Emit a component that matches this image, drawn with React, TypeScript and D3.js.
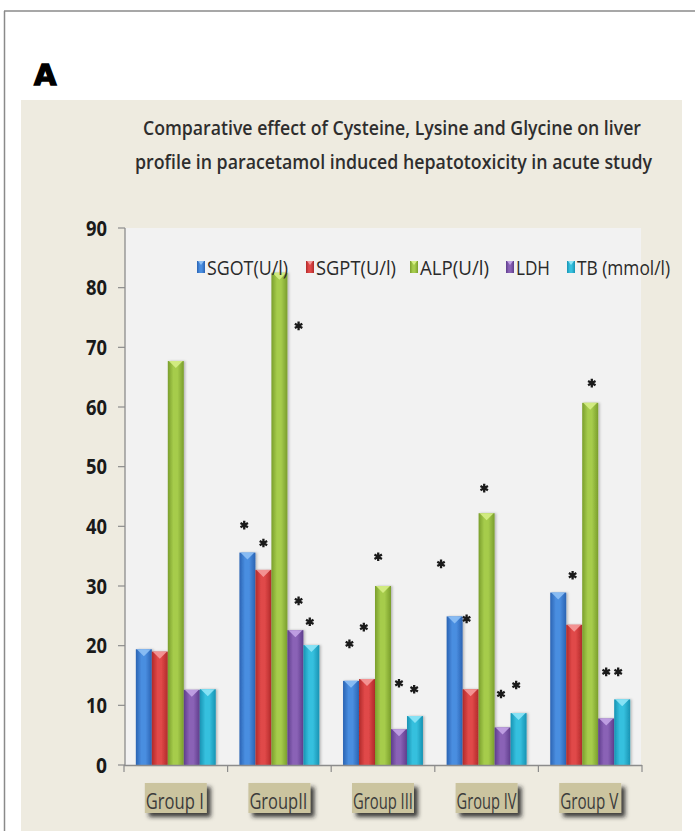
import React from 'react';
import * as d3 from 'd3';

const groups = ['Group I', 'GroupII', 'Group III', 'Group IV', 'Group V'];
const seriesNames = ['SGOT(U/l)', 'SGPT(U/l)', 'ALP(U/l)', 'LDH', 'TB (mmol/l)'];
const sgot = [19.4, 35.6, 14.1, 24.9, 28.9];
const sgpt = [19.0, 32.7, 14.4, 12.7, 23.5];
const alp = [67.7, 82.5, 30.0, 42.2, 60.7];
const ldh = [12.6, 22.6, 6.0, 6.3, 7.8];
const tb = [12.7, 20.1, 8.2, 8.7, 11.0];
const yTicks = [0, 10, 20, 30, 40, 50, 60, 70, 80, 90];
// significance stars: [group index, series index, y value, x shift in bar widths]
const stars: [number, number, number, number][] = [
  [1, 0, 40.2, -0.2], [1, 1, 37.2, 0], [1, 2, 73.6, 1.2], [1, 3, 27.5, 0.2], [1, 4, 24.0, -0.1],
  [2, 0, 20.3, -0.1], [2, 1, 23.1, -0.2], [2, 2, 34.9, -0.3], [2, 3, 13.7, 0], [2, 4, 12.7, -0.05],
  [3, 0, 33.7, -0.85], [3, 1, 24.5, -0.25], [3, 2, 46.4, -0.15], [3, 3, 11.9, -0.1], [3, 4, 13.4, -0.15],
  [4, 1, 31.8, -0.1], [4, 2, 64.0, 0.1], [4, 3, 15.6, 0], [4, 4, 15.6, -0.25],
];

const seriesValues = [sgot, sgpt, alp, ldh, tb];
const colors = [
  { mid: '#4a8ee0', edge: '#2a63b3', top: '#8ec0f5' },
  { mid: '#e04848', edge: '#b02a2a', top: '#f59a9a' },
  { mid: '#a6cc4c', edge: '#7a9e2c', top: '#d6ee86' },
  { mid: '#8a62b6', edge: '#5e3d8c', top: '#c3a4e6' },
  { mid: '#36c0de', edge: '#1893b3', top: '#8fe6f7' },
];
const legendX = [197, 306, 410, 506, 567];
const legendW = [81, 80, 69, 34, 93];
const labelTextW = [58, 58, 60, 60, 58];

const W = 695;
const H = 831;
const FONT = "'Open Sans', 'Noto Sans', sans-serif";

export default function App() {
  const x = d3.scaleBand<string>().domain(groups).range([124, 642]).padding(0);
  const inner = d3
    .scaleBand<number>()
    .domain(d3.range(seriesNames.length))
    .range([0, x.bandwidth()])
    .paddingInner(0)
    .paddingOuter(0.74);
  const y = d3.scaleLinear().domain([0, 90]).range([765, 228]);
  const bw = inner.bandwidth();
  const star = d3.symbol(d3.symbolAsterisk, 52)() as string;

  return (
    <svg width={W} height={H} style={{ position: 'absolute', left: 0, top: 0 }}>
      <defs>
        {colors.map((c, i) => (
          <linearGradient key={i} id={`g${i}`} x1="0" x2="1" y1="0" y2="0">
            <stop offset="0" stopColor={c.edge} />
            <stop offset="0.35" stopColor={c.mid} />
            <stop offset="0.6" stopColor={c.mid} />
            <stop offset="1" stopColor={c.edge} />
          </linearGradient>
        ))}
        <filter id="sh" x="-30%" y="-30%" width="160%" height="160%">
          <feDropShadow dx="4" dy="4" stdDeviation="2" floodColor="#222" floodOpacity="0.85" />
        </filter>
        <filter id="bsh" x="-30%" y="-10%" width="160%" height="120%">
          <feDropShadow dx="1.5" dy="0" stdDeviation="1" floodColor="#000" floodOpacity="0.25" />
        </filter>
      </defs>
      <rect x={0} y={0} width={W} height={H} fill="#ffffff" />
      <line x1={4} x2={W} y1={11} y2={11} stroke="#8a8a8a" strokeWidth={1.5} />
      <line x1={4.5} x2={4.5} y1={11} y2={H} stroke="#8a8a8a" strokeWidth={1.5} />
      <text x={34} y={85} fontFamily="'DejaVu Sans', sans-serif" fontWeight={900} fontSize={29} fill="#000"
        stroke="#000" strokeWidth={1.4}>A</text>
      <rect x={21} y={100} width={661} height={H - 100} fill="#eeebe0" />
      <text x={392} y={135} textAnchor="middle" fontFamily={FONT} fontWeight={600} fontSize={19} fill="#2e2e2e"
        textLength={498} lengthAdjust="spacingAndGlyphs">
        Comparative effect of Cysteine, Lysine and Glycine on liver
      </text>
      <text x={393.5} y={169} textAnchor="middle" fontFamily={FONT} fontWeight={600} fontSize={19} fill="#2e2e2e"
        textLength={517} lengthAdjust="spacingAndGlyphs">
        profile in paracetamol induced hepatotoxicity in acute study
      </text>
      <rect x={125} y={y(90)} width={641 - 125} height={y(0) - y(90)} fill="#f2f2f2" />
      {/* y axis */}
      <line x1={125} x2={125} y1={y(90)} y2={y(0)} stroke="#8c8c8c" strokeWidth={1.3} />
      {yTicks.map((t) => (
        <g key={t}>
          <line x1={118} x2={125} y1={y(t)} y2={y(t)} stroke="#8c8c8c" strokeWidth={1.2} />
          <text x={107} y={y(t) + 7.5} textAnchor="end" fontFamily={FONT} fontWeight={700} fontSize={21}
            fill="#1a1a1a" textLength={t === 0 ? 11 : 21} lengthAdjust="spacingAndGlyphs">
            {t}
          </text>
        </g>
      ))}
      {/* bars */}
      {groups.map((g, gi) => (
        <g key={g} transform={`translate(${x(g)},0)`}>
          {seriesValues.map((vals, si) => {
            const bx = inner(si) as number;
            const by = y(vals[gi]);
            return (
              <g key={si}>
                <rect x={bx} y={by} width={bw} height={y(0) - by} fill={`url(#g${si})`} filter="url(#bsh)" />
                <path d={`M${bx + 1},${by}L${bx + bw - 1},${by}L${bx + bw / 2},${by + 7}Z`} fill={colors[si].top} opacity={0.9} />
              </g>
            );
          })}
        </g>
      ))}
      {/* x axis */}
      <line x1={124} x2={642} y1={y(0) + 0.5} y2={y(0) + 0.5} stroke="#8c8c8c" strokeWidth={1.5} />
      {[...groups.map((g) => x(g) as number), 642].map((px, i) => (
        <line key={i} x1={px} x2={px} y1={y(0)} y2={y(0) + 7} stroke="#8c8c8c" strokeWidth={1.2} />
      ))}
      {groups.map((g, gi) => {
        const cx = (x(g) as number) + x.bandwidth() / 2;
        return (
          <g key={g}>
            <rect x={cx - 31} y={783} width={62} height={30} fill="#cbc49f" filter="url(#sh)" />
            <text x={cx - 30} y={809} fontFamily={FONT} fontSize={21} fill="#3b3b3b"
              textLength={labelTextW[gi]} lengthAdjust="spacingAndGlyphs">
              {g}
            </text>
          </g>
        );
      })}
      {/* stars */}
      {stars.map(([gi, si, v, dx], i) => {
        const cx = (x(groups[gi]) as number) + (inner(si) as number) + bw / 2 + dx * bw;
        return (
          <path key={i} d={star} transform={`translate(${cx},${y(v)})`} stroke="#1a1a1a" strokeWidth={2.3} fill="none" />
        );
      })}
      {/* legend */}
      {seriesNames.map((s, i) => (
        <g key={s}>
          <rect x={legendX[i]} y={261} width={8} height={12} fill={`url(#g${i})`} />
          <path d={`M${legendX[i] + 1},261L${legendX[i] + 7},261L${legendX[i] + 4},265Z`} fill={colors[i].top} />
          <text x={legendX[i] + 10} y={275} fontFamily={FONT} fontSize={20} fill="#2a2a2a"
            textLength={legendW[i]} lengthAdjust="spacingAndGlyphs">
            {s}
          </text>
        </g>
      ))}
    </svg>
  );
}
